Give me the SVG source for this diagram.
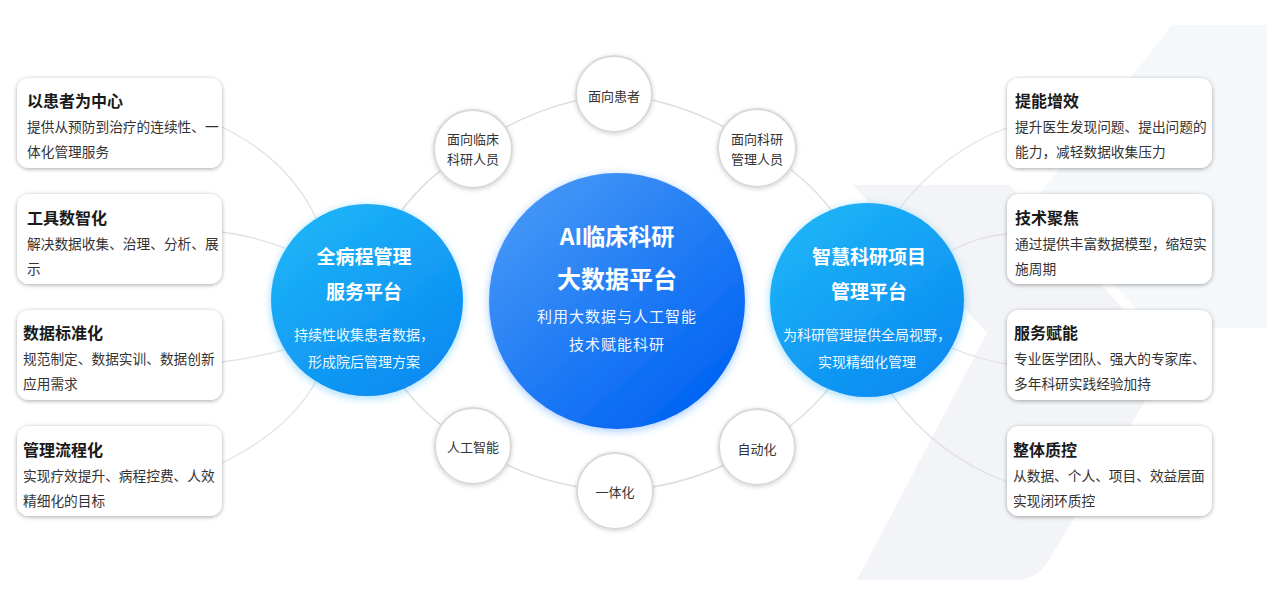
<svg xmlns="http://www.w3.org/2000/svg" width="1267" height="592" viewBox="0 0 1267 592">
<defs>
<style>
text{font-family:"Noto Sans CJK SC","Noto Sans",sans-serif;}
.ct{font-size:16px;font-weight:bold;fill:#1a1a1a;}
.cd{font-size:13.7px;fill:#333;}
.card{fill:#fff;filter:url(#sh);}
.sc{fill:#fff;stroke:#d9d9d9;stroke-width:2;filter:url(#sh2);}
.st{font-size:13px;fill:#333;text-anchor:middle;}
.ring{fill:none;stroke:#dedede;stroke-width:1.5;}
.ln{fill:none;stroke:#e2e2e2;stroke-width:1.3;}
.wt{fill:#fff;text-anchor:middle;font-weight:bold;}
.ws{fill:#fff;text-anchor:middle;fill-opacity:0.95;}
</style>
<filter id="sh" x="-10%" y="-20%" width="120%" height="140%">
<feDropShadow dx="0" dy="1" stdDeviation="2.2" flood-color="#000" flood-opacity="0.35"/>
</filter>
<filter id="sh2" x="-20%" y="-20%" width="140%" height="140%">
<feDropShadow dx="0" dy="1" stdDeviation="2" flood-color="#000" flood-opacity="0.18"/>
</filter>
<filter id="glowM" x="-20%" y="-20%" width="140%" height="140%">
<feDropShadow dx="0" dy="2" stdDeviation="4" flood-color="#2f86ff" flood-opacity="0.45"/>
</filter>
<filter id="glowS" x="-20%" y="-20%" width="140%" height="140%">
<feDropShadow dx="0" dy="2" stdDeviation="4" flood-color="#1aa3f5" flood-opacity="0.4"/>
</filter>
<linearGradient id="gM" x1="0.15" y1="0.1" x2="0.85" y2="0.9">
<stop offset="0" stop-color="#4496f6"/>
<stop offset="1" stop-color="#0063f3"/>
</linearGradient>
<linearGradient id="gS" x1="0.2" y1="0.1" x2="0.8" y2="0.9">
<stop offset="0" stop-color="#1db2f7"/>
<stop offset="1" stop-color="#0a8cf2"/>
</linearGradient>
</defs>
<rect width="1267" height="592" fill="#fff"/>
<g id="background">
<path d="M1172,25 L1267,25 L1267,328 L1155,328 L1035,200 Z" fill="#f4f8fb"/>
<path d="M853,185 L1010,185 L1170,360 L1053,553 Q1040,580 1015,580 L857,580 L987,333 Z" fill="#f2f4f7"/>
</g>
<g id="connectors">
<path class="ring" d="M614,94 A250 200 0 0 1 757,148"/>
<path class="ring" d="M757,148 A250 200 0 0 1 867,300"/>
<path class="ring" d="M867,300 A250 200 0 0 1 757,447"/>
<path class="ring" d="M757,447 A250 200 0 0 1 615,491"/>
<path class="ring" d="M615,491 A250 200 0 0 1 473,446"/>
<path class="ring" d="M473,446 A250 200 0 0 1 367,300"/>
<path class="ring" d="M367,300 A250 200 0 0 1 473,149"/>
<path class="ring" d="M473,149 A250 200 0 0 1 614,94"/>
<path class="ln" d="M222,127 Q290,160 318,222"/>
<path class="ln" d="M222,232 Q255,236 290,250"/>
<path class="ln" d="M222,362 Q255,358 290,348"/>
<path class="ln" d="M222,463 Q290,430 318,378"/>
<path class="ln" d="M1007,128 Q945,150 898,210"/>
<path class="ln" d="M1007,234 Q980,236 952,250"/>
<path class="ln" d="M1007,364 Q980,360 952,348"/>
<path class="ln" d="M1007,482 Q935,455 890,392"/>
</g>
<g id="card-l1"><rect class="card" x="17" y="78" width="205" height="90" rx="12"/>
<text class="ct" x="27" y="107">以患者为中心</text>
<text class="cd" x="27" y="132">提供从预防到治疗的连续性、一</text>
<text class="cd" x="27" y="157">体化管理服务</text></g>
<g id="card-l2"><rect class="card" x="17" y="194" width="205" height="90" rx="12"/>
<text class="ct" x="27" y="224">工具数智化</text>
<text class="cd" x="27" y="249">解决数据收集、治理、分析、展</text>
<text class="cd" x="27" y="274">示</text></g>
<g id="card-l3"><rect class="card" x="17" y="310" width="205" height="90" rx="12"/>
<text class="ct" x="23" y="339">数据标准化</text>
<text class="cd" x="23" y="364">规范制定、数据实训、数据创新</text>
<text class="cd" x="23" y="389">应用需求</text></g>
<g id="card-l4"><rect class="card" x="17" y="426" width="205" height="90" rx="12"/>
<text class="ct" x="23" y="456">管理流程化</text>
<text class="cd" x="23" y="481">实现疗效提升、病程控费、人效</text>
<text class="cd" x="23" y="506">精细化的目标</text></g>
<g id="card-r1"><rect class="card" x="1007" y="78" width="205" height="90" rx="12"/>
<text class="ct" x="1015" y="107">提能增效</text>
<text class="cd" x="1015" y="132">提升医生发现问题、提出问题的</text>
<text class="cd" x="1015" y="157">能力，减轻数据收集压力</text></g>
<g id="card-r2"><rect class="card" x="1007" y="194" width="205" height="90" rx="12"/>
<text class="ct" x="1015" y="224">技术聚焦</text>
<text class="cd" x="1015" y="249">通过提供丰富数据模型，缩短实</text>
<text class="cd" x="1015" y="274">施周期</text></g>
<g id="card-r3"><rect class="card" x="1007" y="310" width="205" height="90" rx="12"/>
<text class="ct" x="1014" y="339">服务赋能</text>
<text class="cd" x="1014" y="364">专业医学团队、强大的专家库、</text>
<text class="cd" x="1014" y="389">多年科研实践经验加持</text></g>
<g id="card-r4"><rect class="card" x="1007" y="426" width="205" height="90" rx="12"/>
<text class="ct" x="1013" y="456">整体质控</text>
<text class="cd" x="1013" y="481">从数据、个人、项目、效益层面</text>
<text class="cd" x="1013" y="506">实现闭环质控</text></g>
<g id="node-p"><circle class="sc" cx="614" cy="94" r="38"/><text class="st" x="614" y="101">面向患者</text></g>
<g id="node-c"><circle class="sc" cx="473" cy="149" r="39"/><text class="st" x="473" y="144">面向临床</text><text class="st" x="473" y="164">科研人员</text></g>
<g id="node-s"><circle class="sc" cx="757" cy="148" r="39"/><text class="st" x="757" y="144">面向科研</text><text class="st" x="757" y="164">管理人员</text></g>
<g id="node-a"><circle class="sc" cx="473" cy="446" r="38"/><text class="st" x="473" y="452">人工智能</text></g>
<g id="node-y"><circle class="sc" cx="615" cy="491" r="38"/><text class="st" x="615" y="497">一体化</text></g>
<g id="node-z"><circle class="sc" cx="757" cy="447" r="38"/><text class="st" x="757" y="454">自动化</text></g>
<g id="node-left"><circle cx="367" cy="300" r="96" fill="url(#gS)" filter="url(#glowS)"/>
<text class="wt" x="364" y="264" font-size="19">全病程管理</text>
<text class="wt" x="364" y="299" font-size="19">服务平台</text>
<text class="ws" x="364" y="340" font-size="14">持续性收集患者数据，</text>
<text class="ws" x="364" y="367" font-size="14">形成院后管理方案</text></g>
<g id="node-main"><circle cx="617" cy="301" r="128" fill="url(#gM)" filter="url(#glowM)"/>
<text class="wt" x="617" y="245" font-size="23">AI临床科研</text>
<text class="wt" x="617" y="288" font-size="24">大数据平台</text>
<text class="ws" x="617" y="322" font-size="15" letter-spacing="1">利用大数据与人工智能</text>
<text class="ws" x="617" y="350" font-size="15" letter-spacing="1">技术赋能科研</text></g>
<g id="node-right"><circle cx="867" cy="300" r="97" fill="url(#gS)" filter="url(#glowS)"/>
<text class="wt" x="869" y="264" font-size="19">智慧科研项目</text>
<text class="wt" x="869" y="299" font-size="19">管理平台</text>
<text class="ws" x="867" y="340" font-size="14">为科研管理提供全局视野，</text>
<text class="ws" x="867" y="367" font-size="14">实现精细化管理</text></g>
</svg>
